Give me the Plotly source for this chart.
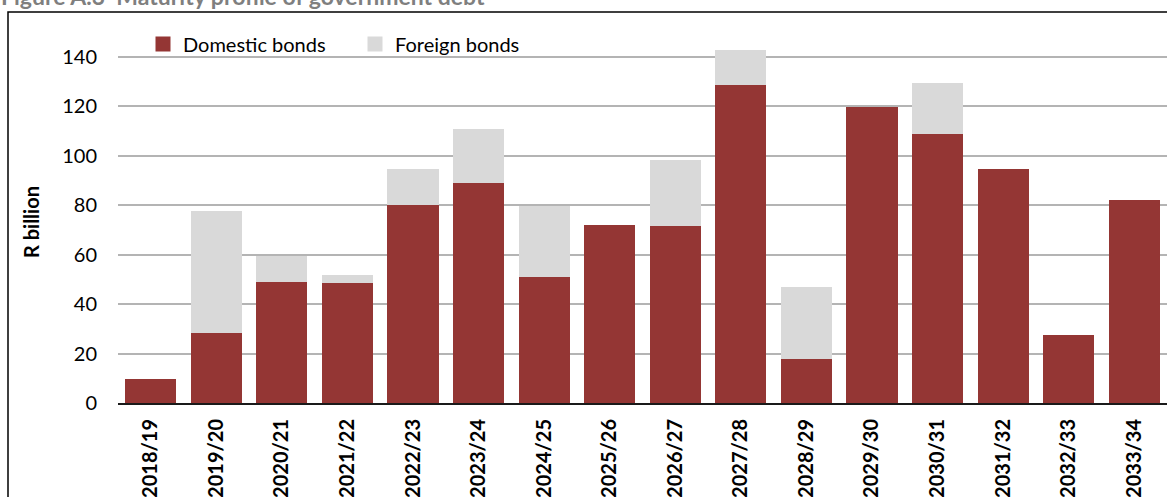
import plotly.graph_objects as go

# Fiscal years of maturity
years = ["2018/19", "2019/20", "2020/21", "2021/22", "2022/23", "2023/24",
         "2024/25", "2025/26", "2026/27", "2027/28", "2028/29", "2029/30",
         "2030/31", "2031/32", "2032/33", "2033/34"]

# Redemptions, R billion
domestic = [9.7, 28.3, 49.1, 48.5, 80.0, 88.9, 50.9, 71.9, 71.7, 128.4,
            17.8, 119.7, 108.9, 94.5, 27.6, 82.2]
foreign = [0, 49.4, 10.4, 3.2, 14.5, 21.8, 28.6, 0, 26.7, 14.4,
           29.1, 0, 20.3, 0, 0, 0]

y_ticks = [0, 20, 40, 60, 80, 100, 120, 140]

DOM_COLOR = "#943634"
FOR_COLOR = "#D9D9D9"
FONT = "Lato, Carlito, Calibri, sans-serif"
W, H = 1167, 497
L, R, T, B = 118, 0, 32, 94
pw, ph = W - L - R, H - T - B


def px_x(x):
    return (x - L) / pw


def px_y(y):
    return (H - B - y) / ph


fig = go.Figure()
fig.add_trace(go.Bar(x=years, y=domestic, name="Domestic bonds",
                     marker=dict(color=DOM_COLOR, line=dict(width=0)),
                     showlegend=False))
fig.add_trace(go.Bar(x=years, y=foreign, name="Foreign bonds",
                     marker=dict(color=FOR_COLOR, line=dict(width=0)),
                     showlegend=False))

# Legend entries with larger square swatches
for name, color in [("Domestic bonds", DOM_COLOR), ("Foreign bonds", FOR_COLOR)]:
    fig.add_trace(go.Scatter(x=[None], y=[None], mode="markers", name=name,
                             marker=dict(symbol="square", size=15, color=color,
                                         line=dict(width=0))))

fig.update_layout(
    width=W, height=H,
    margin=dict(l=L, r=R, t=T, b=B, pad=0),
    barmode="stack", bargap=0.22,
    plot_bgcolor="white", paper_bgcolor="white",
    font=dict(family=FONT, size=20, color="#000000"),
    legend=dict(orientation="h", x=px_x(143), y=px_y(44),
                xanchor="left", yanchor="middle",
                font=dict(size=20, family=FONT), bgcolor="rgba(0,0,0,0)",
                itemwidth=30, entrywidth=167, entrywidthmode="pixels",
                traceorder="normal"),
    xaxis=dict(type="category", tickangle=-90, showgrid=False,
               showline=True, linecolor="#1a1a1a", linewidth=2,
               ticks="", ticklabelstandoff=6,
               tickfont=dict(family=FONT, size=20, color="#000", weight="bold")),
    yaxis=dict(range=[0, 150], tickvals=y_ticks, showgrid=True,
               gridcolor="#B4B4B4", gridwidth=1.6, zeroline=False,
               showline=False, ticks="",
               tickfont=dict(family=FONT, size=20, color="#000"),
               ticklabelstandoff=20),
)

# Axis title
fig.add_annotation(text="<b>R billion</b>", x=px_x(17), y=px_y(222),
                   xref="paper", yref="paper", textangle=-90, showarrow=False,
                   font=dict(family=FONT, size=20, color="#000"))

# Figure heading
fig.add_annotation(text="<b>Figure A.3  Maturity profile of government debt</b>",
                   x=px_x(0), y=px_y(-4), xref="paper", yref="paper",
                   xanchor="left", yanchor="middle", showarrow=False,
                   borderpad=0,
                   font=dict(family=FONT, size=23, color="#7F7F7F"))

# Frame around the chart
fig.add_shape(type="rect", xref="paper", yref="paper",
              x0=px_x(8), x1=px_x(1200), y0=px_y(520), y1=px_y(12),
              line=dict(color="#000000", width=1.5), fillcolor="rgba(0,0,0,0)",
              layer="above")

fig.write_html("out.html")
